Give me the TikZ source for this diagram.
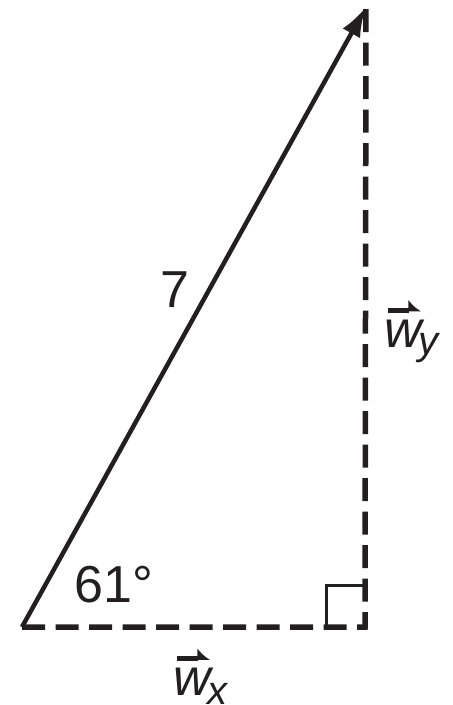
\documentclass[tikz,border=0pt]{standalone}
\usepackage{fix-cm}
\usepackage{fontspec}
\setmainfont{Liberation Sans}
\usetikzlibrary{arrows.meta}
\definecolor{ink}{HTML}{231F20}
\tikzset{
  vecln/.style  = {line width=4.5pt, draw=ink, -{Latex[length=30pt,width=20pt]}},
  compln/.style = {line width=5.5pt, draw=ink, dash pattern=on 23pt off 10.5pt, line join=miter},
  rtsq/.style   = {line width=3pt, draw=ink},
  acc/.style    = {line width=5pt, draw=ink, -{Latex[harpoon, length=11pt, width=22pt]}},
  lbl/.style    = {inner sep=0pt, text=ink, font=\fontsize{52}{60}\selectfont},
  sub/.style    = {inner sep=0pt, text=ink, font=\fontsize{40}{48}\selectfont\itshape},
}

\begin{document}
\begin{tikzpicture}[x=1pt,y=-1pt]
  \useasboundingbox (0,0) rectangle (453,705);
  \coordinate (A) at (22,627);
  \coordinate (C) at (365,627);
  \coordinate (B) at (366,7);
  % components and right angle
  \draw[compln] (A) -- (C) -- (B);
  \draw[rtsq] (C) ++(-38.5,0) -- ++(0,-42) -- ++(38.5,0);
  % the vector
  \draw[vecln] (A) -- (B);
  \node[lbl] (mag) at (175,290) {7};
  \node[lbl] (ang) at (114,585) {61°};
  % component labels
  \node[lbl, anchor=base west, font=\fontsize{52}{60}\selectfont\itshape] (wx) at (173,695) {w};
  \node[sub, anchor=base west, xshift=-4pt, yshift=-9pt] (wxs) at (wx.base east) {x};
  \draw[acc] (wx.north west) ++(4,-8.5) -- ++(33,0);
  \node[lbl, anchor=base west, font=\fontsize{52}{60}\selectfont\itshape] (wy) at (384,347) {w};
  \node[sub, anchor=base west, xshift=-4pt, yshift=-7pt] (wys) at (wy.base east) {y};
  \draw[acc] (wy.north west) ++(4,-9) -- ++(33,0);
\end{tikzpicture}
\end{document}
